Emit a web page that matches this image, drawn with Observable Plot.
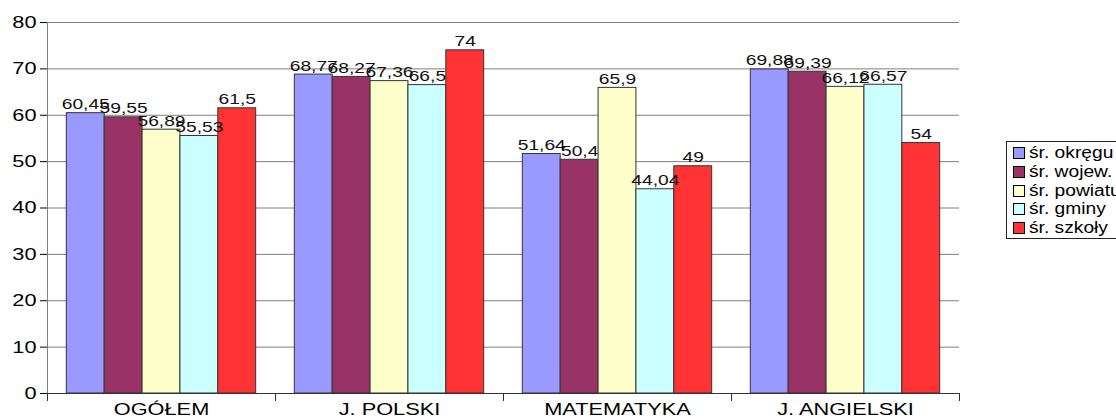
<!DOCTYPE html>
<html><head><meta charset="utf-8">
<script src="https://cdn.jsdelivr.net/npm/d3@7"></script>
<script src="https://cdn.jsdelivr.net/npm/@observablehq/plot@0.6"></script>
<style>
html,body{margin:0;padding:0;overflow:hidden;background:#fff;width:1116px;height:419px}
#chart{position:absolute;left:0;top:0}
#legend{position:absolute;left:1006px;top:141px;border:1px solid #222;padding:2px 0 1px 6px;font:16px Arial,"Liberation Sans",sans-serif;white-space:nowrap;width:140px;background:#fff}
.item{height:18.7px;display:flex;align-items:center;color:#000}
.sw{width:10px;height:10px;border:1px solid #000;margin-right:4px;flex:none}
.lt{display:inline-block;transform:scaleX(1.2);transform-origin:0 50%}
</style></head><body><div id="chart"></div><div id="legend"></div>
<script>
const categories = ["OGÓŁEM", "J. POLSKI", "MATEMATYKA", "J. ANGIELSKI"];
const series = ["śr. okręgu", "śr. wojew.", "śr. powiatu", "śr. gminy", "śr. szkoły"];
const okregu = [60.45, 68.77, 51.64, 69.88];
const wojew = [59.55, 68.27, 50.4, 69.39];
const powiatu = [56.89, 67.36, 65.9, 66.12];
const gminy = [55.53, 66.5, 44.04, 66.57];
const szkoly = [61.5, 74, 49, 54];
const colors = ["#9999ff", "#993366", "#ffffcc", "#ccffff", "#ff3333"];
const yTicks = [0, 10, 20, 30, 40, 50, 60, 70, 80];

const seriesValues = [okregu, wojew, powiatu, gminy, szkoly];
const data = [];
categories.forEach((c, i) => {
  series.forEach((s, j) => data.push({category: c, series: s, value: seriesValues[j][i]}));
});
const fmt = v => String(v).replace(".", ",");

const W = 1116, H = 419, mT = 22, mB = 26, mL = 45, mR = 156;
const font = 'Arial, "Liberation Sans", sans-serif';

const chart = Plot.plot({
  width: W, height: H,
  marginTop: mT, marginBottom: mB, marginLeft: mL, marginRight: mR,
  style: {fontFamily: font, background: "#fff", color: "#000"},
  fx: {domain: categories, padding: 0, label: null},
  x: {domain: series, paddingInner: 0, paddingOuter: 0.51, round: false, axis: null},
  y: {domain: [0, 80], axis: null},
  color: {domain: series, range: colors},
  marks: [
    Plot.gridY(yTicks, {stroke: "#808080", strokeOpacity: 1}),
    Plot.barY(data, {fx: "category", x: "series", y: "value", fill: "series", stroke: "#333", strokeWidth: 1}),
    Plot.text(data, {fx: "category", x: "series", y: "value", text: d => fmt(d.value), dy: -4, lineAnchor: "bottom", fontSize: 15, fill: "#111"}),
    Plot.ruleY([0], {stroke: "#333"}),
    Plot.frame({anchor: "left", facetAnchor: "left", stroke: "#808080", insetBottom: -7}),
    Plot.frame({anchor: "left", stroke: "#333", insetTop: H - mT - mB, insetBottom: -7}),
    Plot.frame({anchor: "right", stroke: "#333", insetTop: H - mT - mB, insetBottom: -7}),
    Plot.axisY(yTicks, {tickSize: 7, tickPadding: 4, fontSize: 17, color: "#000", tickFormat: d => String(d), label: null}),
    Plot.axisFx({anchor: "bottom", tickSize: 0, tickPadding: 9, fontSize: 17, color: "#000", label: null})
  ]
});
document.getElementById("chart").appendChild(chart);

// widen glyphs to match the reference's stretched lettering
chart.querySelectorAll("text").forEach(t => {
  const len = t.getComputedTextLength();
  if (len > 0) {
    t.setAttribute("textLength", (len * 1.28).toFixed(1));
    t.setAttribute("lengthAdjust", "spacingAndGlyphs");
  }
});

const legend = document.getElementById("legend");
series.forEach((s, j) => {
  const item = document.createElement("div");
  item.className = "item";
  const sw = document.createElement("span");
  sw.className = "sw";
  sw.style.background = colors[j];
  const t = document.createElement("span");
  t.className = "lt";
  t.textContent = s;
  item.appendChild(sw);
  item.appendChild(t);
  legend.appendChild(item);
});
</script>
</body></html>
